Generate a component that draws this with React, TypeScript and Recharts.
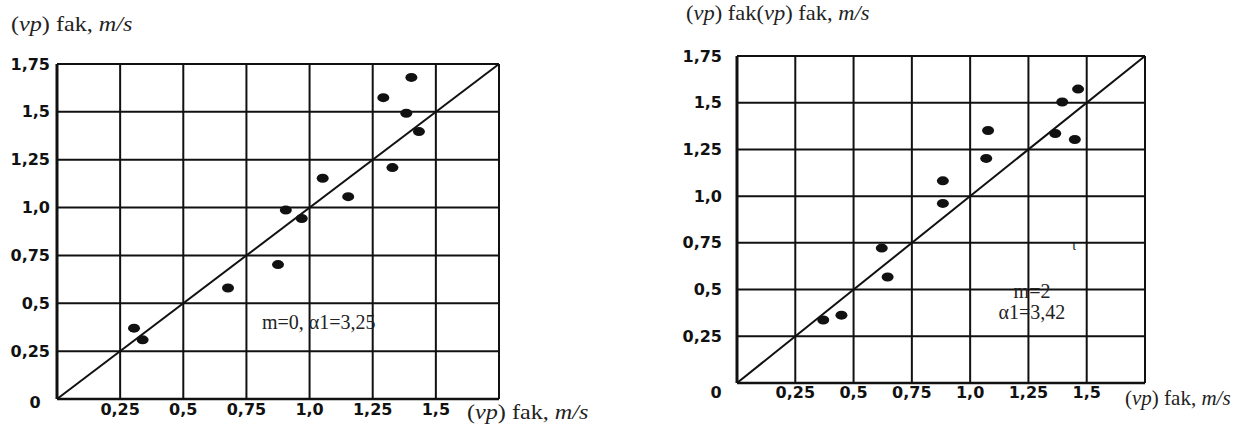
import React from "react";
import { ComposedChart, Scatter, XAxis, YAxis, CartesianGrid, ReferenceLine } from "recharts";

const ticks = [0, 0.25, 0.5, 0.75, 1, 1.25, 1.5, 1.75];
const yTickLabels = ["0", "0,25", "0,5", "0,75", "1,0", "1,25", "1,5", "1,75"];
const xTickLabels = ["", "0,25", "0,5", "0,75", "1,0", "1,25", "1,5", ""];
const diagonal = [{ x: 0, y: 0 }, { x: 1.75, y: 1.75 }];

// m=0, α1=3,25
const leftFact = [0.305, 0.339, 0.677, 0.875, 0.906, 0.969, 1.052, 1.153, 1.292, 1.328, 1.403, 1.383, 1.433];
const leftCalc = [0.37, 0.309, 0.58, 0.702, 0.987, 0.943, 1.153, 1.057, 1.574, 1.209, 1.68, 1.493, 1.397];

// m=2, α1=3,42
const rightFact = [0.37, 0.448, 0.621, 0.646, 0.883, 0.883, 1.069, 1.077, 1.365, 1.395, 1.449, 1.463];
const rightCalc = [0.337, 0.363, 0.722, 0.567, 1.082, 0.961, 1.202, 1.351, 1.335, 1.504, 1.303, 1.573];

const tickFont = { fontFamily: "DejaVu Sans", fontWeight: 700, fontSize: 16, fill: "#111" };
const serif = "'Liberation Serif', 'Times New Roman', serif";

type PanelProps = {
  xs: number[];
  ys: number[];
  left: number;
  margin: { top: number; right: number; bottom: number; left: number };
  yGap: number;
  xDrop: number;
  zero: { dx: number; dy: number };
};

function Panel({ xs, ys, left, margin, yGap, xDrop, zero }: PanelProps) {
  const data = xs.map((x, i) => ({ x, y: ys[i] }));
  const XTick = (p: any) => {
    const label = xTickLabels[ticks.indexOf(p.payload.value)];
    if (!label) return <g />;
    return (
      <text x={p.x} y={p.y + xDrop} dy="0.35em" textAnchor="middle" {...tickFont}>
        {label}
      </text>
    );
  };
  const YTick = (p: any) => {
    const i = ticks.indexOf(p.payload.value);
    if (i === 0) {
      return (
        <text x={p.x + zero.dx} y={p.y + zero.dy} dy="0.35em" textAnchor="middle" {...tickFont}>
          {yTickLabels[0]}
        </text>
      );
    }
    return (
      <text x={p.x - yGap} y={p.y} dy="0.35em" textAnchor="end" {...tickFont}>
        {yTickLabels[i]}
      </text>
    );
  };
  return (
    <div style={{ position: "absolute", left, top: 0 }}>
      <ComposedChart width={620} height={430} margin={margin}>
        <CartesianGrid stroke="#111" strokeWidth={2} />
        <XAxis
          type="number"
          dataKey="x"
          domain={[0, 1.75]}
          ticks={ticks}
          height={1}
          tickSize={0}
          tickMargin={0}
          tickLine={false}
          axisLine={{ stroke: "#111", strokeWidth: 2.5 }}
          tick={XTick}
          interval={0}
          allowDataOverflow
        />
        <YAxis
          type="number"
          dataKey="y"
          domain={[0, 1.75]}
          ticks={ticks}
          width={1}
          tickSize={0}
          tickMargin={0}
          tickLine={false}
          axisLine={{ stroke: "#111", strokeWidth: 3 }}
          tick={YTick}
          interval={0}
          allowDataOverflow
        />
        <ReferenceLine segment={diagonal} stroke="#111" strokeWidth={2} ifOverflow="visible" />
        <Scatter
          data={data}
          fill="#111"
          isAnimationActive={false}
          shape={(p: any) => <ellipse cx={p.cx} cy={p.cy} rx={6} ry={4.5} fill="#111" />}
        />
      </ComposedChart>
    </div>
  );
}

function Title({ x, y, size = 21, stretch = 1, children }: any) {
  return (
    <div
      style={{
        position: "absolute",
        left: x,
        top: y,
        fontFamily: serif,
        fontSize: size,
        lineHeight: `${size}px`,
        color: "#222",
        whiteSpace: "nowrap",
        transform: `scaleX(${stretch})`,
        transformOrigin: "left center",
      }}
    >
      {children}
    </div>
  );
}

const unit = (
  <>
    (<i>vp</i>) fak, <i>m/s</i>
  </>
);

export default function App() {
  return (
    <div style={{ position: "absolute", left: 0, top: 0, width: 1240, height: 430, background: "#fff", overflow: "hidden" }}>
      <Panel
        xs={leftFact}
        ys={leftCalc}
        left={0}
        margin={{ top: 64, right: 121, bottom: 30, left: 56 }}
        yGap={7}
        xDrop={10}
        zero={{ dx: -22, dy: 3 }}
      />
      <Panel
        xs={rightFact}
        ys={rightCalc}
        left={620}
        margin={{ top: 56, right: 95, bottom: 46, left: 116 }}
        yGap={15}
        xDrop={9}
        zero={{ dx: -21, dy: 9 }}
      />
      <Title x={11} y={14} stretch={1.15}>{unit}</Title>
      <Title x={467} y={402} stretch={1.15}>{unit}</Title>
      <Title x={262} y={312} size={20}>m=0, α1=3,25</Title>
      <Title x={686} y={3} stretch={1.07}>
        (<i>vp</i>) fak(<i>vp</i>) fak, <i>m/s</i>
      </Title>
      <Title x={1125} y={388}>{unit}</Title>
      <div
        style={{
          position: "absolute",
          left: 982,
          top: 281,
          width: 100,
          textAlign: "center",
          fontFamily: serif,
          fontSize: 20,
          lineHeight: "21px",
          color: "#222",
        }}
      >
        <div>m=2</div>
        <div>α1=3,42</div>
      </div>
      <Title x={1072} y={238} size={15}>ι</Title>
    </div>
  );
}
